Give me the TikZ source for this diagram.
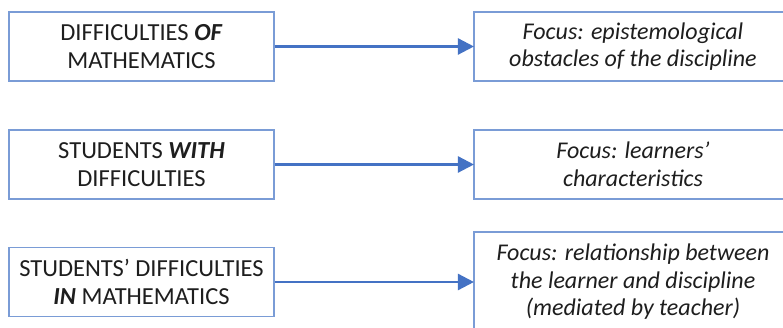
\documentclass[tikz,border=0pt]{standalone}
\usepackage{fontspec}
\setmainfont{Carlito}
\usetikzlibrary{arrows.meta}
\definecolor{boxblue}{RGB}{122,156,214}
\definecolor{arrblue}{RGB}{68,114,196}
\definecolor{txt}{RGB}{30,30,30}
\tikzset{
  leftbox/.style={draw=boxblue, line width=1.1pt, minimum width=265pt, minimum height=69pt, align=center, text=txt, font=\fontsize{24.5}{28.5}\selectfont, inner sep=0pt},
  rightbox/.style={draw=boxblue, line width=1.1pt, minimum width=318pt, minimum height=69pt, align=center, text=txt, font=\fontsize{24}{27.5}\selectfont\itshape, inner sep=0pt},
  conn/.style={draw=arrblue, line width=2.4pt, -{Triangle[length=16pt,width=16pt]}, shorten >=-0.5pt}
}
\begin{document}
\begin{tikzpicture}[x=1pt,y=-1pt]
\useasboundingbox (0,0) rectangle (783,328);
\fill[white] (0,0) rectangle (783,328);
\clip (0,0) rectangle (783,328);
\node[leftbox] (l1) at (141.5,46.5) {DIFFICULTIES \textbf{\textit{OF}}\\MATHEMATICS};
\node[leftbox] (l2) at (141.5,164.5) {STUDENTS \textbf{\textit{WITH}}\\DIFFICULTIES};
\node[leftbox] (l3) at (141.5,282) {STUDENTS’ DIFFICULTIES\\\textbf{\textit{IN}} MATHEMATICS};
\node[rightbox] (r1) at (633,46.5) {Focus: epistemological\\obstacles of the discipline};
\node[rightbox] (r2) at (633,164.5) {Focus: learners’\\characteristics};
\node[rightbox, minimum height=100pt] (r3) at (633,282) {Focus: relationship between\\the learner and discipline\\(mediated by teacher)};
\draw[conn] (l1.east) -- (r1.west);
\draw[conn] (l2.east) -- (r2.west);
\draw[conn] (l3.east) -- (r3.west);
\end{tikzpicture}
\end{document}
